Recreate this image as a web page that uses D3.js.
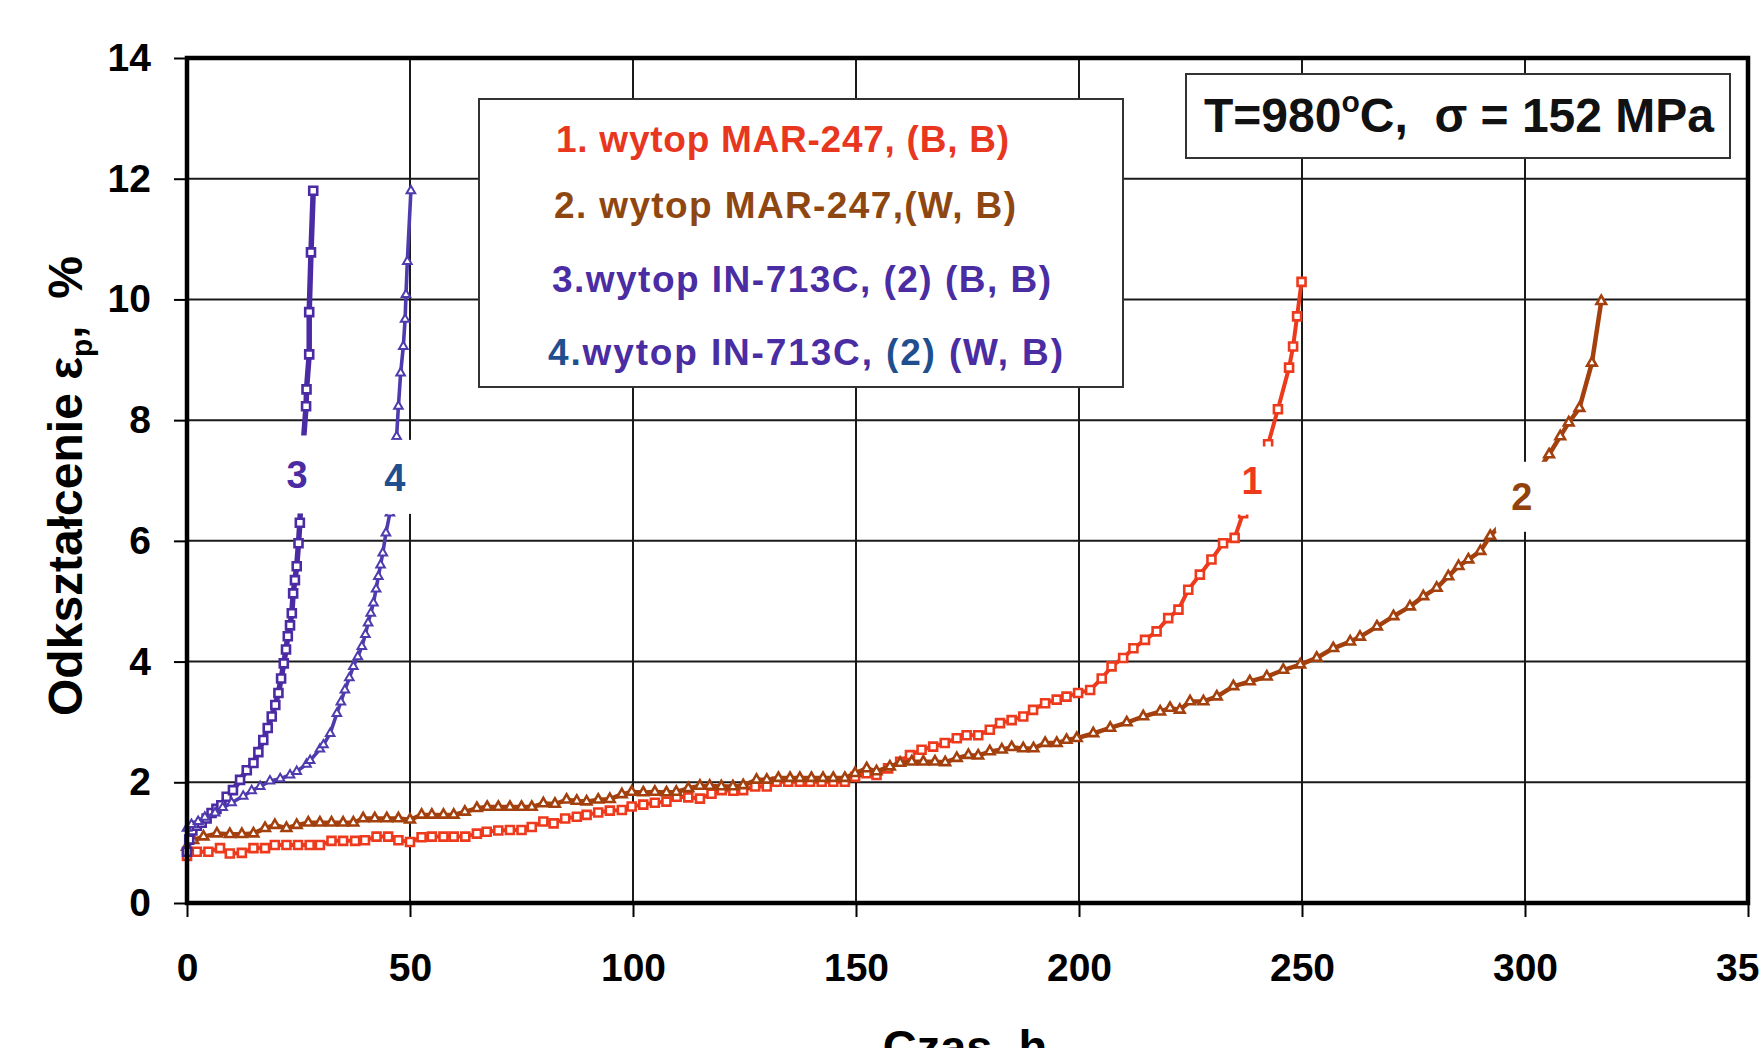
<!DOCTYPE html>
<html><head><meta charset="utf-8">
<script src="https://cdn.jsdelivr.net/npm/d3@7"></script>
<style>
html,body{margin:0;padding:0;background:#fff;}
svg{display:block;font-family:"Liberation Sans",Arial,sans-serif;font-weight:bold;}
text{white-space:pre;}
</style></head><body>
<svg id="c" width="1759" height="1048"></svg>
<script>
// ---- data (time h, strain %) ----
const xTicks = [0, 50, 100, 150, 200, 250, 300, 350];
const yTicks = [0, 2, 4, 6, 8, 10, 12, 14];

const series1 = [[0,0.78],[2.2,0.85],[4.8,0.85],[7.4,0.91],[9.6,0.82],[12.3,0.83],[14.9,0.91],[17.5,0.91],[19.7,0.96],[22.3,0.96],[24.9,0.96],[27.5,0.96],[29.8,0.96],[32.4,1.03],[35,1.03],[37.7,1.03],[39.9,1.04],[42.5,1.1],[45.1,1.1],[47.4,1.04],[50,1.01],[52.6,1.09],[54.9,1.1],[57.5,1.1],[59.8,1.1],[62.4,1.1],[65,1.15],[67.2,1.18],[69.8,1.2],[72.4,1.21],[75,1.21],[77.3,1.26],[79.9,1.35],[82.2,1.32],[84.8,1.4],[87.4,1.43],[89.6,1.46],[92.2,1.5],[94.8,1.53],[97.5,1.54],[99.7,1.6],[102.3,1.63],[104.9,1.66],[107.5,1.68],[109.8,1.76],[112.4,1.75],[115,1.73],[117.6,1.81],[119.9,1.87],[122.5,1.86],[124.7,1.87],[127.4,1.93],[130,1.93],[132.2,2.01],[134.8,2.01],[137.4,2.01],[139.7,2.01],[142.3,2.01],[144.9,2.01],[147.5,2.01],[149.8,2.09],[152.4,2.15],[154.6,2.12],[157.2,2.23],[159.9,2.34],[162.1,2.45],[164.7,2.54],[167.3,2.59],[169.9,2.65],[172.6,2.73],[174.8,2.78],[177.4,2.78],[180,2.87],[182.3,2.98],[184.9,3.03],[187.5,3.09],[189.7,3.2],[192.4,3.31],[195,3.37],[197.2,3.42],[199.8,3.48],[202.5,3.53],[205.1,3.72],[207.3,3.92],[209.9,4.06],[212.2,4.22],[214.8,4.36],[217.4,4.5],[220,4.72],[222.3,4.86],[224.5,5.19],[227.1,5.44],[229.7,5.69],[232.3,5.96],[234.9,6.05],[236.8,6.46],[242.4,7.6],[244.6,8.18],[247.1,8.87],[248,9.22],[248.9,9.72],[249.9,10.29]];

const series2 = [[0,0.93],[1.4,1.04],[3.7,1.1],[6.7,1.15],[9.6,1.14],[12.3,1.14],[14.9,1.15],[17.5,1.24],[19.7,1.29],[22.3,1.24],[24.6,1.29],[27.2,1.33],[29.8,1.33],[32.4,1.33],[35,1.33],[37.3,1.33],[39.5,1.4],[42.1,1.4],[44.8,1.4],[47.4,1.4],[50,1.38],[52.6,1.46],[54.9,1.46],[57.5,1.46],[59.8,1.46],[62.3,1.51],[65,1.57],[67.3,1.59],[69.8,1.59],[72.4,1.59],[75,1.59],[77.3,1.59],[79.9,1.65],[82.5,1.64],[85.1,1.71],[87.4,1.69],[89.6,1.68],[92.2,1.71],[94.8,1.72],[97.5,1.8],[99.7,1.84],[102.3,1.83],[104.9,1.84],[107.5,1.83],[109.7,1.84],[112.4,1.9],[115,1.94],[117.2,1.94],[119.8,1.93],[122.4,1.93],[124.7,1.95],[127.7,2.04],[130,2.04],[132.6,2.07],[135.2,2.07],[137.4,2.07],[140,2.07],[142.6,2.07],[144.9,2.07],[147.5,2.07],[149.8,2.15],[152.4,2.23],[154.6,2.18],[157.6,2.26],[159.9,2.32],[162.5,2.34],[165.1,2.34],[167.7,2.34],[170,2.33],[172.6,2.4],[175.2,2.45],[177.4,2.44],[180,2.51],[182.7,2.54],[184.9,2.58],[187.5,2.56],[189.8,2.56],[192.4,2.65],[195,2.65],[197.2,2.7],[199.5,2.73],[203.2,2.81],[207,2.9],[210.7,2.99],[214.4,3.09],[218.2,3.17],[220.4,3.23],[222.6,3.2],[224.9,3.34],[227.9,3.34],[230.9,3.42],[234.6,3.59],[238.3,3.67],[242.1,3.75],[245.8,3.86],[249.6,3.95],[253.3,4.06],[257,4.22],[260.8,4.33],[263,4.41],[266.8,4.58],[270.5,4.75],[274.2,4.91],[277.2,5.08],[280.2,5.22],[282.8,5.41],[285.1,5.58],[287.3,5.69],[290,5.83],[292.2,6.08],[295.2,6.32],[305.4,7.43],[307.9,7.73],[309.8,7.96],[312.2,8.2],[315,8.95],[317.1,9.97]];

const series3 = [[0,0.85],[0.5,1.05],[1.2,1.2],[2.2,1.28],[3.3,1.33],[4.4,1.4],[5.5,1.49],[6.6,1.56],[7.7,1.62],[8.9,1.76],[10.3,1.87],[11.9,2.04],[13.4,2.2],[14.9,2.32],[16,2.5],[17.1,2.7],[18.1,2.9],[19,3.09],[19.8,3.28],[20.5,3.48],[21.1,3.72],[21.7,3.97],[22.2,4.2],[22.6,4.42],[23.1,4.6],[23.5,4.8],[23.8,5.13],[24.2,5.35],[24.6,5.58],[25,5.96],[25.3,6.3],[26.1,7.65],[26.7,8.23],[26.8,8.51],[27.4,9.09],[27.4,9.79],[27.8,10.78],[28.3,11.8]];

const series4 = [[0,1.24],[1,1.3],[2.5,1.35],[4,1.42],[6.3,1.49],[8,1.58],[10,1.66],[12.6,1.77],[14.5,1.86],[16.4,1.93],[18.6,2.02],[20.9,2.06],[23.1,2.12],[24.6,2.18],[26.8,2.3],[27.6,2.36],[29.8,2.55],[30.6,2.62],[32.1,2.81],[33.6,3.14],[34.5,3.33],[35.4,3.53],[36.4,3.73],[37.3,3.92],[38.3,4.08],[39.2,4.25],[40,4.45],[40.6,4.64],[41.2,4.8],[41.8,4.97],[42.4,5.2],[42.9,5.41],[43.4,5.6],[43.9,5.8],[44.6,6.13],[45.5,6.46],[47,7.73],[47.4,8.23],[47.9,8.78],[48.5,9.22],[48.9,9.67],[49.1,10.08],[49.4,10.63],[50.2,11.8]];

const curveLabels = ["1", "2", "3", "4"];
const curveLabelAt = [[238.8, 7.0], [299.3, 6.73], [24.7, 7.1], [46.6, 7.06]];

const legendLines = [
  [["1. wytop MAR-247, (B, B)", "#e8361f"]],
  [["2. wytop MAR-247,(W, B)", "#8f4712"]],
  [["3.wytop IN-713C, (2) (B, B)", "#4a2ca3"]],
  [["4.", "#1f4f8e"], ["wytop IN-713C, ", "#4a2ca3"], ["(2)", "#1f4f8e"], [" (W, B)", "#4a2ca3"]]
];
const xTitle = "Czas, h";

// ---- layout ----
const svg = d3.select("#c");
const L = 187, R = 1748, T = 58, B = 903;
const x = d3.scaleLinear().domain([0, 350]).range([L, R]);
const y = d3.scaleLinear().domain([0, 14]).range([B, T]);

svg.append("rect").attr("width", 1759).attr("height", 1048).attr("fill", "#fff");

// grid
const g = svg.append("g");
g.selectAll(".gx").data(xTicks.slice(1, -1)).join("line")
  .attr("x1", d => x(d)).attr("x2", d => x(d)).attr("y1", T).attr("y2", B)
  .attr("stroke", "#1a1a1a").attr("stroke-width", 2);
g.selectAll(".gy").data(yTicks.slice(1, -1)).join("line")
  .attr("y1", d => y(d)).attr("y2", d => y(d)).attr("x1", L).attr("x2", R)
  .attr("stroke", "#1a1a1a").attr("stroke-width", 2);

// legend box
svg.append("rect").attr("x", 479).attr("y", 99).attr("width", 644).attr("height", 288)
  .attr("fill", "#fff").attr("stroke", "#333").attr("stroke-width", 2);
const legBase = [152, 218, 292, 365];
const legX = [556, 554, 552, 548];
const legLen = [453, 462, 499, 515];
legendLines.forEach((parts, i) => {
  const t = svg.append("text").attr("x", legX[i]).attr("y", legBase[i])
    .attr("font-size", 37).attr("textLength", legLen[i]).attr("lengthAdjust", "spacing");
  parts.forEach(p => t.append("tspan").attr("fill", p[1]).text(p[0]));
});

// condition box
svg.append("rect").attr("x", 1186).attr("y", 74).attr("width", 544).attr("height", 84)
  .attr("fill", "#fff").attr("stroke", "#333").attr("stroke-width", 2);
const tt = svg.append("text").attr("x", 1204).attr("y", 132).attr("font-size", 48).attr("fill", "#111")
  .attr("textLength", 510).attr("lengthAdjust", "spacing");
tt.append("tspan").text("T=980");
tt.append("tspan").attr("font-size", 30).attr("dy", -20).text("o");
tt.append("tspan").attr("dy", 20).text("C,  σ = 152 MPa");

// curves
const line = d3.line().x(d => x(d[0])).y(d => y(d[1]));
const curves = [
  {d: series1, c: "#ee3a1c", w: 4, sym: d3.symbolSquare, s: 64, sw: 2.6},
  {d: series2, c: "#a3400d", w: 4.5, sym: d3.symbolTriangle, s: 40, sw: 2.6},
  {d: series3, c: "#4b2ba3", w: 5.5, sym: d3.symbolSquare, s: 64, sw: 2.6},
  {d: series4, c: "#4f3bae", w: 3.6, sym: d3.symbolTriangle, s: 32, sw: 2}
];
curves.forEach(cv => {
  svg.append("path").attr("d", line(cv.d)).attr("fill", "none")
    .attr("stroke", cv.c).attr("stroke-width", cv.w).attr("stroke-linejoin", "round");
  svg.append("g").selectAll("path").data(cv.d).join("path")
    .attr("d", d3.symbol().type(cv.sym).size(cv.s))
    .attr("transform", d => `translate(${x(d[0])},${y(d[1])})`)
    .attr("fill", "#fff").attr("stroke", cv.c).attr("stroke-width", cv.sw);
});

// curve labels with white backing
const labCol = ["#ee3a1c", "#93420e", "#4b2ba3", "#1f4f8e"];
const labBox = [[48, 68], [52, 70], [40, 78], [46, 74]];
curveLabels.forEach((t, i) => {
  const px = x(curveLabelAt[i][0]), py = y(curveLabelAt[i][1]);
  svg.append("rect").attr("x", px - labBox[i][0] / 2).attr("y", py - labBox[i][1] / 2)
    .attr("width", labBox[i][0]).attr("height", labBox[i][1]).attr("fill", "#fff");
  svg.append("text").attr("x", px).attr("y", py).attr("dy", "0.36em")
    .attr("text-anchor", "middle").attr("font-size", 38).attr("fill", labCol[i]).text(t);
});

// frame
svg.append("rect").attr("x", L).attr("y", T).attr("width", R - L).attr("height", B - T)
  .attr("fill", "none").attr("stroke", "#000").attr("stroke-width", 4.5);

// axes
const ax = svg.append("g").attr("transform", `translate(0,${B})`)
  .call(d3.axisBottom(x).tickValues(xTicks).tickFormat(d3.format("d")).tickSize(14).tickPadding(36));
const ay = svg.append("g").attr("transform", `translate(${L},0)`)
  .call(d3.axisLeft(y).tickValues(yTicks).tickFormat(d3.format("d")).tickSize(13).tickPadding(23));
[ax, ay].forEach(a => {
  a.select(".domain").remove();
  a.selectAll(".tick line").attr("stroke", "#000").attr("stroke-width", 2);
  a.selectAll(".tick text").attr("fill", "#000").attr("font-size", 39)
    .attr("font-family", "Liberation Sans, Arial, sans-serif").attr("font-weight", "bold");
});

// axis titles
svg.append("text").attr("x", 965).attr("y", 1063).attr("text-anchor", "middle")
  .attr("font-size", 47).attr("fill", "#000").text(xTitle);
const yt = svg.append("text").attr("transform", "translate(82,486) rotate(-90)")
  .attr("text-anchor", "middle").attr("font-size", 48).attr("fill", "#000");
yt.append("tspan").text("Odkształcenie ε");
yt.append("tspan").attr("font-size", 30).attr("dy", 10).text("p");
yt.append("tspan").attr("dy", -10).text(",  %");
</script>
</body></html>
